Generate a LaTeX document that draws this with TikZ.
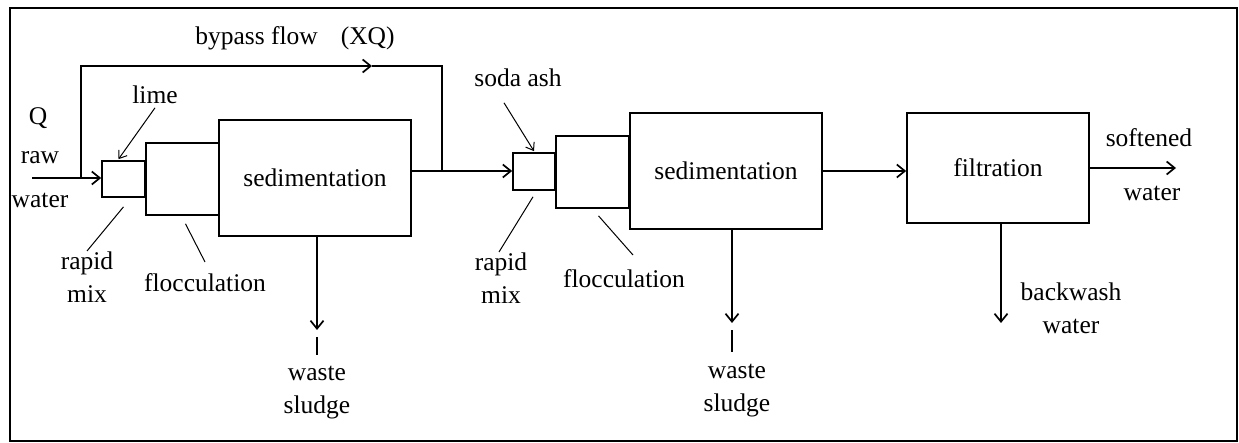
\documentclass[tikz,border=0pt]{standalone}
\usepackage{fontspec}
\setmainfont{Liberation Serif}
\usetikzlibrary{arrows.meta}
\begin{document}
\begin{tikzpicture}[x=1pt, y=-1pt, line width=1.7pt, >={Straight Barb[length=8pt,width=13pt]},
box/.style={draw, inner sep=0pt, font=\fontsize{25.5}{33}\selectfont},
lbl/.style={inner sep=0pt, align=center, font=\fontsize{25.5}{33}\selectfont},
ptr/.style={line width=1pt, >={Straight Barb[length=7pt,width=10pt]}}]%
\useasboundingbox (0,0) rectangle (1239,443);
\draw[line width=2.5pt] (10,8) rectangle (1237,441);
\begin{scope}
\node[box, minimum width=43pt, minimum height=36pt] (rm1) at (123.5,179) {};
\node[box, minimum width=73pt, minimum height=72pt] (fl1) at (182.5,179) {};
\node[box, minimum width=192pt, minimum height=116pt] (sed1) at (315,178) {sedimentation};
\node[box, minimum width=42pt, minimum height=37pt] (rm2) at (534,171.5) {};
\node[box, minimum width=73pt, minimum height=72pt] (fl2) at (592.5,172) {};
\node[box, minimum width=192pt, minimum height=116pt] (sed2) at (726,171) {sedimentation};
\node[box, minimum width=182pt, minimum height=110pt] (filt) at (998,168) {filtration};
%\node[box] (x) at (,) {};
\end{scope}
\begin{scope}
\node[lbl] (q) at (38,118) {Q};
\node[lbl] (raw) at (40,158) {raw};
\node[lbl] (rawwater) at (40,200) {water};
\node[lbl] (bypass) at (295,38) {bypass flow\hspace{0.9em}(XQ)};
\node[lbl] (lime) at (155,95) {lime};
\node[lbl, anchor=north] (rmix1) at (87,251) {rapid\\mix};
\node[lbl, anchor=north] (floc1) at (205,273) {flocculation};
\node[lbl, anchor=north] (sludge1) at (317,365) {waste\\sludge};
\node[lbl] (soda) at (518,78) {soda ash};
\node[lbl, anchor=north] (rmix2) at (501,252) {rapid\\mix};
\node[lbl, anchor=north] (floc2) at (624,269) {flocculation};
\node[lbl, anchor=north] (sludge2) at (737,363) {waste\\sludge};
\node[lbl] (soft) at (1149,138) {softened};
\node[lbl] (softwater) at (1152,193) {water};
\node[lbl] (backwash) at (1071,308) {backwash\\water};
\end{scope}
\begin{scope}
\coordinate (in) at (32,178);
\coordinate (split) at (81,178);
\coordinate (byarrow) at (372,66);
\coordinate (join) at (442,171);
\coordinate (ws1) at (317,330);
\coordinate (ws1gap) at (317,337);
\coordinate (ws2) at (732,323);
\coordinate (ws2gap) at (732,330);
\coordinate (outend) at (1176,168);
\coordinate (bwend) at (1001,323);
% main flow
\draw[->] (in) -- (rm1.west |- in);
\draw[->] (split) |- (byarrow);
\draw (byarrow) -| (join);
\draw[->] (sed1.east |- join) -- (rm2.west |- join);
\draw[->] (sed2.east |- join) -- (filt.west |- join);
\draw[->] (filt.east |- outend) -- (outend);
% wastes
\draw[->] (sed1.south -| ws1) -- (ws1);
\draw (ws1gap) -- ([yshift=10pt]sludge1.north -| ws1gap);
\draw[->] (sed2.south -| ws2) -- (ws2);
\draw (ws2gap) -- ([yshift=11pt]sludge2.north -| ws2gap);
\draw[->] (filt.south -| bwend) -- (bwend);
\end{scope}
\begin{scope}[ptr]
\draw[->] ([yshift=-3pt]lime.south) -- ([xshift=-5pt,yshift=1pt]rm1.north);
\draw[->] ([xshift=-14pt,yshift=-15pt]soda.south) -- ([yshift=1pt]rm2.north);
\draw ([yshift=-9pt]rm1.south) -- (rmix1.north);
\draw ([xshift=3pt,yshift=-8pt]fl1.south) -- ([yshift=11pt]floc1.north);
\draw ([yshift=-6pt,xshift=-1pt]rm2.south) -- ([xshift=-2pt]rmix2.north);
\draw ([xshift=6pt,yshift=-7pt]fl2.south) -- ([xshift=9pt,yshift=14pt]floc2.north);
\end{scope}
\end{tikzpicture}
\end{document}
